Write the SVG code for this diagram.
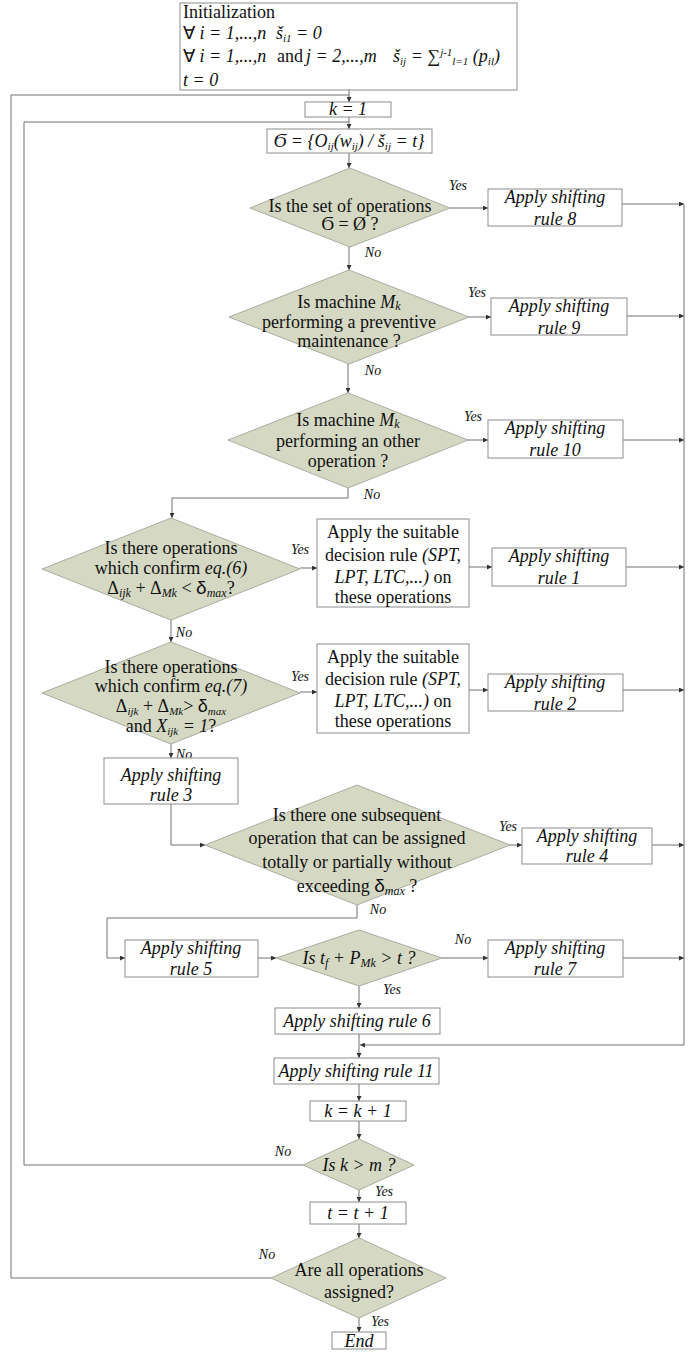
<svg xmlns="http://www.w3.org/2000/svg" width="697" height="1352" viewBox="0 0 697 1352">
<style>
.bg{fill:#fff}
.box{fill:#fff;stroke:#8c8c8c;stroke-width:1}
.dia{fill:#d5d9c3;stroke:#a9aca0;stroke-width:1}
.ln{fill:none;stroke:#707070;stroke-width:1}
.t{font-family:"Liberation Serif","Times New Roman",serif;fill:#111;font-size:18px}
.c{text-anchor:middle}
.i{font-style:italic}
.r{font-size:18px;font-style:italic}
.s{font-size:18px}
.lbl{font-family:"Liberation Serif","Times New Roman",serif;font-size:14px;font-style:italic;fill:#111;text-anchor:middle}
.d{font-family:"Liberation Sans","DejaVu Sans",sans-serif;font-style:normal}
</style>
<defs>
<marker id="ar" viewBox="0 0 6 6" refX="6" refY="3" markerWidth="5" markerHeight="5" orient="auto" markerUnits="userSpaceOnUse">
<path d="M0,0 L6,3 L0,6 z" fill="#333"/>
</marker>
</defs>
<rect class="bg" x="0" y="0" width="697" height="1352"/>

<g id="connectors">
<path class="ln" d="M349,90 V102" marker-end="url(#ar)"/>
<path class="ln" d="M271,1278 H11 V95 H349"/>
<path class="ln" d="M349,117 V129" marker-end="url(#ar)"/>
<path class="ln" d="M303,1165 H24 V122 H349"/>
<path class="ln" d="M349,153 V168" marker-end="url(#ar)"/>
<path class="ln" d="M450,208 H488" marker-end="url(#ar)"/>
<path class="ln" d="M622,204 H684" marker-end="url(#ar)"/>
<path class="ln" d="M349,247 V270" marker-end="url(#ar)"/>
<path class="ln" d="M469,317 H491" marker-end="url(#ar)"/>
<path class="ln" d="M627,316 H684" marker-end="url(#ar)"/>
<path class="ln" d="M348,364 V393" marker-end="url(#ar)"/>
<path class="ln" d="M468,440 H488" marker-end="url(#ar)"/>
<path class="ln" d="M623,440 H684" marker-end="url(#ar)"/>
<path class="ln" d="M348,488 V498 H172 V518" marker-end="url(#ar)"/>
<path class="ln" d="M300,568 H317" marker-end="url(#ar)"/>
<path class="ln" d="M469,567 H492" marker-end="url(#ar)"/>
<path class="ln" d="M626,567 H684" marker-end="url(#ar)"/>
<path class="ln" d="M171,620 V642" marker-end="url(#ar)"/>
<path class="ln" d="M300,692 H317" marker-end="url(#ar)"/>
<path class="ln" d="M469,690 H488" marker-end="url(#ar)"/>
<path class="ln" d="M623,690 H684" marker-end="url(#ar)"/>
<path class="ln" d="M171,744 V758" marker-end="url(#ar)"/>
<path class="ln" d="M171,804 V845 H205" marker-end="url(#ar)"/>
<path class="ln" d="M510,845 H522" marker-end="url(#ar)"/>
<path class="ln" d="M652,845 H684" marker-end="url(#ar)"/>
<path class="ln" d="M357,905 V918 H107 V958 H125" marker-end="url(#ar)"/>
<path class="ln" d="M258,958 H276" marker-end="url(#ar)"/>
<path class="ln" d="M442,958 H488" marker-end="url(#ar)"/>
<path class="ln" d="M623,958 H684" marker-end="url(#ar)"/>
<path class="ln" d="M359,985 V1008" marker-end="url(#ar)"/>
<path class="ln" d="M684,204 V1045 H360" marker-end="url(#ar)"/>
<path class="ln" d="M359,1034 V1058" marker-end="url(#ar)"/>
<path class="ln" d="M359,1084 V1101" marker-end="url(#ar)"/>
<path class="ln" d="M359,1121 V1139" marker-end="url(#ar)"/>
<path class="ln" d="M359,1190 V1202" marker-end="url(#ar)"/>
<path class="ln" d="M359,1224 V1238" marker-end="url(#ar)"/>
<path class="ln" d="M359,1318 V1332" marker-end="url(#ar)"/>
</g>

<g id="labels">
<text class="lbl" x="458" y="190">Yes</text>
<text class="lbl" x="373" y="257">No</text>
<text class="lbl" x="477" y="297">Yes</text>
<text class="lbl" x="373" y="375">No</text>
<text class="lbl" x="473" y="421">Yes</text>
<text class="lbl" x="372" y="499">No</text>
<text class="lbl" x="300" y="554">Yes</text>
<text class="lbl" x="184" y="637">No</text>
<text class="lbl" x="300" y="681">Yes</text>
<text class="lbl" x="184" y="759">No</text>
<text class="lbl" x="508" y="831">Yes</text>
<text class="lbl" x="378" y="914">No</text>
<text class="lbl" x="463" y="944">No</text>
<text class="lbl" x="392" y="994">Yes</text>
<text class="lbl" x="283" y="1156">No</text>
<text class="lbl" x="384" y="1196">Yes</text>
<text class="lbl" x="267" y="1259">No</text>
<text class="lbl" x="380" y="1326">Yes</text>
</g>

<g id="init">
<rect class="box" x="180" y="3" width="337" height="87"/>
<text class="t" x="183" y="18">Initialization</text>
<text class="t" x="183" y="39" font-size="17.5">∀ <tspan class="i">i = 1,...,n</tspan></text>
<text class="t i" x="276" y="39" font-size="17.5">š<tspan font-size="11" dy="3">i1</tspan><tspan dy="-3"> = 0</tspan></text>
<text class="t" x="183" y="62" font-size="17.5">∀ <tspan class="i">i = 1,...,n</tspan></text>
<text class="t" x="277" y="62" font-size="17.5">and</text>
<text class="t i" x="306" y="62" font-size="17.5">j = 2,...,m</text>
<text class="t i" x="393" y="62" font-size="17.5">š<tspan font-size="11" dy="3">ij</tspan><tspan dy="-3"> = ∑</tspan><tspan font-size="11" dy="-6">j-1</tspan><tspan font-size="11" dy="9">l=1</tspan><tspan dy="-3"> (p</tspan><tspan font-size="11" dy="3">il</tspan><tspan dy="-3">)</tspan></text>
<text class="t i" x="183" y="86" font-size="17.5">t = 0</text>
</g>

<g id="k1">
<rect class="box" x="305" y="102" width="86" height="15"/>
<text class="t r c" x="348" y="115">k = 1</text>
</g>

<g id="sigma">
<rect class="box" x="267" y="129" width="165" height="24"/>
<text class="t r c" x="349" y="147">Ϭ = {O<tspan font-size="11" dy="3">ij</tspan><tspan dy="-3">(w</tspan><tspan font-size="11" dy="3">ij</tspan><tspan dy="-3">) / š</tspan><tspan font-size="11" dy="3">ij</tspan><tspan dy="-3"> = t}</tspan></text>
</g>

<g id="d1">
<polygon class="dia" points="350,168 450,208 350,247 250,208"/>
<text class="t c" x="350" y="212">Is the set of operations</text>
<text class="t c" x="350" y="230">Ϭ = Ø ?</text>
</g>
<g id="r8">
<rect class="box" x="488" y="189" width="134" height="37"/>
<text class="t r c" x="555" y="203">Apply shifting</text>
<text class="t r c" x="555" y="225">rule 8</text>
</g>

<g id="d2">
<polygon class="dia" points="349,270 469,317 349,364 229,317"/>
<text class="t c" x="349" y="308">Is machine <tspan class="i">M</tspan><tspan class="i" font-size="12" dy="2">k</tspan></text>
<text class="t c" x="349" y="328">performing a preventive</text>
<text class="t c" x="349" y="347">maintenance ?</text>
</g>
<g id="r9">
<rect class="box" x="491" y="298" width="136" height="37"/>
<text class="t r c" x="559" y="312">Apply shifting</text>
<text class="t r c" x="559" y="334">rule 9</text>
</g>

<g id="d3">
<polygon class="dia" points="348,393 468,440 348,488 228,440"/>
<text class="t c" x="348" y="426">Is machine <tspan class="i">M</tspan><tspan class="i" font-size="12" dy="2">k</tspan></text>
<text class="t c" x="348" y="447">performing an other</text>
<text class="t c" x="348" y="467">operation ?</text>
</g>
<g id="r10">
<rect class="box" x="488" y="420" width="135" height="38"/>
<text class="t r c" x="555" y="434">Apply shifting</text>
<text class="t r c" x="555" y="456">rule 10</text>
</g>

<g id="d4">
<polygon class="dia" points="171,518 300,569 171,620 42,569"/>
<text class="t c" x="171" y="554">Is there operations</text>
<text class="t c" x="171" y="574">which confirm <tspan class="i">eq.(6)</tspan></text>
<text class="t c" x="171" y="594">Δ<tspan class="i" font-size="12" dy="3">ijk</tspan><tspan dy="-3"> + Δ</tspan><tspan class="i" font-size="12" dy="3">Mk</tspan><tspan dy="-3"> &lt; </tspan><tspan class="d" font-size="19">δ</tspan><tspan class="i" font-size="12" dy="3">max</tspan><tspan dy="-3">?</tspan></text>
</g>
<g id="spt1">
<rect class="box" x="317" y="519" width="152" height="88"/>
<text class="t s c" x="393" y="538">Apply the suitable</text>
<text class="t s c" x="393" y="561">decision rule <tspan class="i">(SPT,</tspan></text>
<text class="t s c" x="393" y="583"><tspan class="i">LPT, LTC,...)</tspan> on</text>
<text class="t s c" x="393" y="603">these operations</text>
</g>
<g id="r1">
<rect class="box" x="492" y="548" width="134" height="38"/>
<text class="t r c" x="559" y="562">Apply shifting</text>
<text class="t r c" x="559" y="584">rule 1</text>
</g>

<g id="d5">
<polygon class="dia" points="171,642 300,693 171,744 42,693"/>
<text class="t c" x="171" y="673" font-size="16">Is there operations</text>
<text class="t c" x="171" y="692" font-size="16">which confirm <tspan class="i">eq.(7)</tspan></text>
<text class="t c" x="171" y="712" font-size="16">Δ<tspan class="i" font-size="11" dy="3">ijk</tspan><tspan dy="-3"> + Δ</tspan><tspan class="i" font-size="11" dy="3">Mk</tspan><tspan dy="-3">&gt; </tspan><tspan class="d" font-size="18">δ</tspan><tspan class="i" font-size="11" dy="3">max</tspan></text>
<text class="t c" x="171" y="732" font-size="16">and <tspan class="i">X</tspan><tspan class="i" font-size="11" dy="3">ijk</tspan><tspan class="i" dy="-3"> = 1</tspan>?</text>
</g>
<g id="spt2">
<rect class="box" x="317" y="644" width="152" height="89"/>
<text class="t s c" x="393" y="663">Apply the suitable</text>
<text class="t s c" x="393" y="685">decision rule <tspan class="i">(SPT,</tspan></text>
<text class="t s c" x="393" y="707"><tspan class="i">LPT, LTC,...)</tspan> on</text>
<text class="t s c" x="393" y="727">these operations</text>
</g>
<g id="r2">
<rect class="box" x="488" y="674" width="135" height="37"/>
<text class="t r c" x="555" y="688">Apply shifting</text>
<text class="t r c" x="555" y="710">rule 2</text>
</g>

<g id="r3">
<rect class="box" x="104" y="758" width="134" height="46"/>
<text class="t r c" x="171" y="781">Apply shifting</text>
<text class="t r c" x="171" y="801">rule 3</text>
</g>

<g id="d6">
<polygon class="dia" points="357,785 510,845 357,905 205,845"/>
<text class="t c" x="357" y="821">Is there one subsequent</text>
<text class="t c" x="357" y="844">operation that can be assigned</text>
<text class="t c" x="357" y="868">totally or partially without</text>
<text class="t c" x="357" y="892">exceeding <tspan class="d" font-size="19">δ</tspan><tspan class="i" font-size="12" dy="3">max</tspan><tspan dy="-3"> ?</tspan></text>
</g>
<g id="r4">
<rect class="box" x="522" y="828" width="130" height="36"/>
<text class="t r c" x="587" y="842">Apply shifting</text>
<text class="t r c" x="587" y="862">rule 4</text>
</g>

<g id="r5">
<rect class="box" x="125" y="940" width="133" height="37"/>
<text class="t r c" x="191" y="954">Apply shifting</text>
<text class="t r c" x="191" y="975">rule 5</text>
</g>
<g id="d7">
<polygon class="dia" points="359,930 442,958 359,986 276,958"/>
<text class="t r c" x="359" y="964">Is t<tspan font-size="12" dy="3">f</tspan><tspan dy="-3"> + P</tspan><tspan font-size="12" dy="3">Mk</tspan><tspan dy="-3"> &gt; t ?</tspan></text>
</g>
<g id="r7">
<rect class="box" x="488" y="940" width="135" height="37"/>
<text class="t r c" x="555" y="954">Apply shifting</text>
<text class="t r c" x="555" y="975">rule 7</text>
</g>
<g id="r6">
<rect class="box" x="275" y="1008" width="165" height="26"/>
<text class="t r c" x="357" y="1027">Apply shifting rule 6</text>
</g>

<g id="r11">
<rect class="box" x="274" y="1058" width="165" height="26"/>
<text class="t r c" x="356" y="1077">Apply shifting rule 11</text>
</g>
<g id="kinc">
<rect class="box" x="310" y="1101" width="96" height="20"/>
<text class="t r c" x="358" y="1117">k = k + 1</text>
</g>
<g id="d8">
<polygon class="dia" points="359,1139 414,1165 359,1190 303,1165"/>
<text class="t r c" x="359" y="1171" font-size="17">Is k &gt; m ?</text>
</g>
<g id="tinc">
<rect class="box" x="310" y="1202" width="96" height="22"/>
<text class="t r c" x="358" y="1219">t = t + 1</text>
</g>
<g id="d9">
<polygon class="dia" points="359,1238 446,1278 359,1318 271,1278"/>
<text class="t s c" x="359" y="1276">Are all operations</text>
<text class="t s c" x="359" y="1298">assigned?</text>
</g>
<g id="end">
<rect class="box" x="332" y="1332" width="54" height="17"/>
<text class="t r c" x="359" y="1347">End</text>
</g>
</svg>
